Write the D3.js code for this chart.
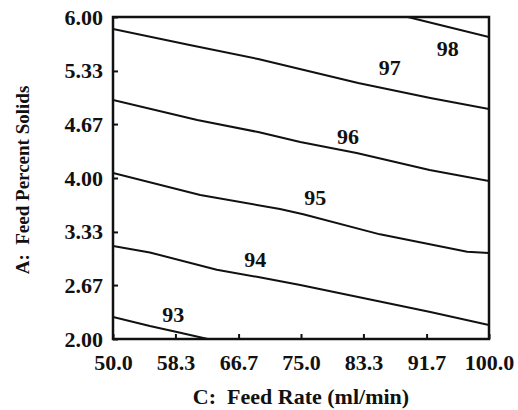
<!DOCTYPE html>
<html>
<head>
<meta charset="utf-8">
<script src="https://cdn.jsdelivr.net/npm/d3@7/dist/d3.min.js"></script>
<style>
  body { margin: 0; background: #fff; }
  svg { display: block; }
  text { font-family: "Liberation Serif", "Times New Roman", serif; font-weight: bold; fill: #111; }
</style>
</head>
<body>
<svg id="chart"></svg>
<script>
// tick values on both axes
var xTicks = [50.0, 58.3, 66.7, 75.0, 83.3, 91.7, 100.0];
var yTicks = [2.00, 2.67, 3.33, 4.00, 4.67, 5.33, 6.00];

// contour levels, each line as [feed rate, percent solids] points
var levels = [93, 94, 95, 96, 97, 98];
var contour93 = [[50, 2.273], [54.9, 2.161], [58.5, 2.087], [62.6, 2.0]];
var contour94 = [[50, 3.155], [54.9, 3.075], [63.8, 2.860], [69.3, 2.770], [74.9, 2.671], [82.6, 2.522], [92.2, 2.335], [100, 2.174]];
var contour95 = [[50, 4.062], [61.6, 3.789], [72.2, 3.615], [75.3, 3.550], [85.5, 3.300], [97.1, 3.085], [100, 3.068]];
var contour96 = [[50, 4.969], [61.2, 4.720], [69.3, 4.571], [74.9, 4.447], [82.4, 4.311], [92.1, 4.099], [100, 3.963]];
var contour97 = [[50, 5.851], [60.2, 5.652], [69.3, 5.478], [82.6, 5.180], [92.2, 4.994], [100, 4.857]];
var contour98 = [[89.2, 6.0], [93.5, 5.90], [100, 5.752]];
var contours = [contour93, contour94, contour95, contour96, contour97, contour98];

// where each level label sits
var labelX = [58.0, 68.9, 76.9, 81.25, 86.8, 94.5];
var labelY = [2.31, 2.994, 3.764, 4.52, 5.379, 5.615];

var svgWidth = 518, svgHeight = 410;
var margin = { top: 17, right: 29, bottom: 71, left: 113 };
var width = svgWidth - margin.left - margin.right;
var height = svgHeight - margin.top - margin.bottom;

var svg = d3.select('#chart')
    .attr("width", svgWidth)
    .attr("height", svgHeight);

var g = svg.append("g")
    .attr("transform", "translate(" + margin.left + "," + margin.top + ")");

var x = d3.scaleLinear().domain([50, 100]).range([0, width]);
var y = d3.scaleLinear().domain([2, 6]).range([height, 0]);

g.append("clipPath").attr("id", "plotclip")
    .append("rect").attr("width", width).attr("height", height);

var line = d3.line()
    .x(function(d) { return x(d[0]); })
    .y(function(d) { return y(d[1]); });

g.append("g")
    .attr("clip-path", "url(#plotclip)")
    .selectAll("path")
    .data(contours)
    .enter().append("path")
    .attr("fill", "none")
    .attr("stroke", "#111")
    .attr("stroke-width", 2)
    .attr("stroke-linejoin", "round")
    .attr("d", line);

g.selectAll(".lvl")
    .data(levels)
    .enter().append("text")
    .attr("class", "lvl")
    .attr("x", function(d, i) { return x(labelX[i]); })
    .attr("y", function(d, i) { return y(labelY[i]); })
    .attr("dy", "0.35em")
    .attr("text-anchor", "middle")
    .style("font-size", "22px")
    .text(function(d) { return d; });

// axes with inward ticks
var xAxis = g.append("g")
    .attr("transform", "translate(0," + height + ")")
    .call(d3.axisBottom(x).tickValues(xTicks).tickSizeInner(-5).tickSizeOuter(0).tickPadding(15)
        .tickFormat(d3.format(".1f")));

var yAxis = g.append("g")
    .call(d3.axisLeft(y).tickValues(yTicks).tickSizeInner(-5).tickSizeOuter(0).tickPadding(10)
        .tickFormat(d3.format(".2f")));

[xAxis, yAxis].forEach(function(a) {
    a.select(".domain").remove();
    a.selectAll("line").attr("stroke", "#111").attr("stroke-width", 2);
    a.selectAll("text").style("font-size", "22px").style("font-family", "Liberation Serif, serif").style("font-weight", "bold").attr("fill", "#111");
});

g.append("rect")
    .attr("width", width)
    .attr("height", height)
    .attr("fill", "none")
    .attr("stroke", "#111")
    .attr("stroke-width", 2.5);

svg.append("text")
    .attr("x", 301)
    .attr("y", 404)
    .attr("text-anchor", "middle")
    .style("font-size", "22px")
    .attr("xml:space", "preserve")
    .text("C:  Feed Rate (ml/min)");

svg.append("text")
    .attr("transform", "translate(29,180) rotate(-90)")
    .attr("text-anchor", "middle")
    .style("font-size", "19px")
    .attr("xml:space", "preserve")
    .text("A:  Feed Percent Solids");
</script>
</body>
</html>
